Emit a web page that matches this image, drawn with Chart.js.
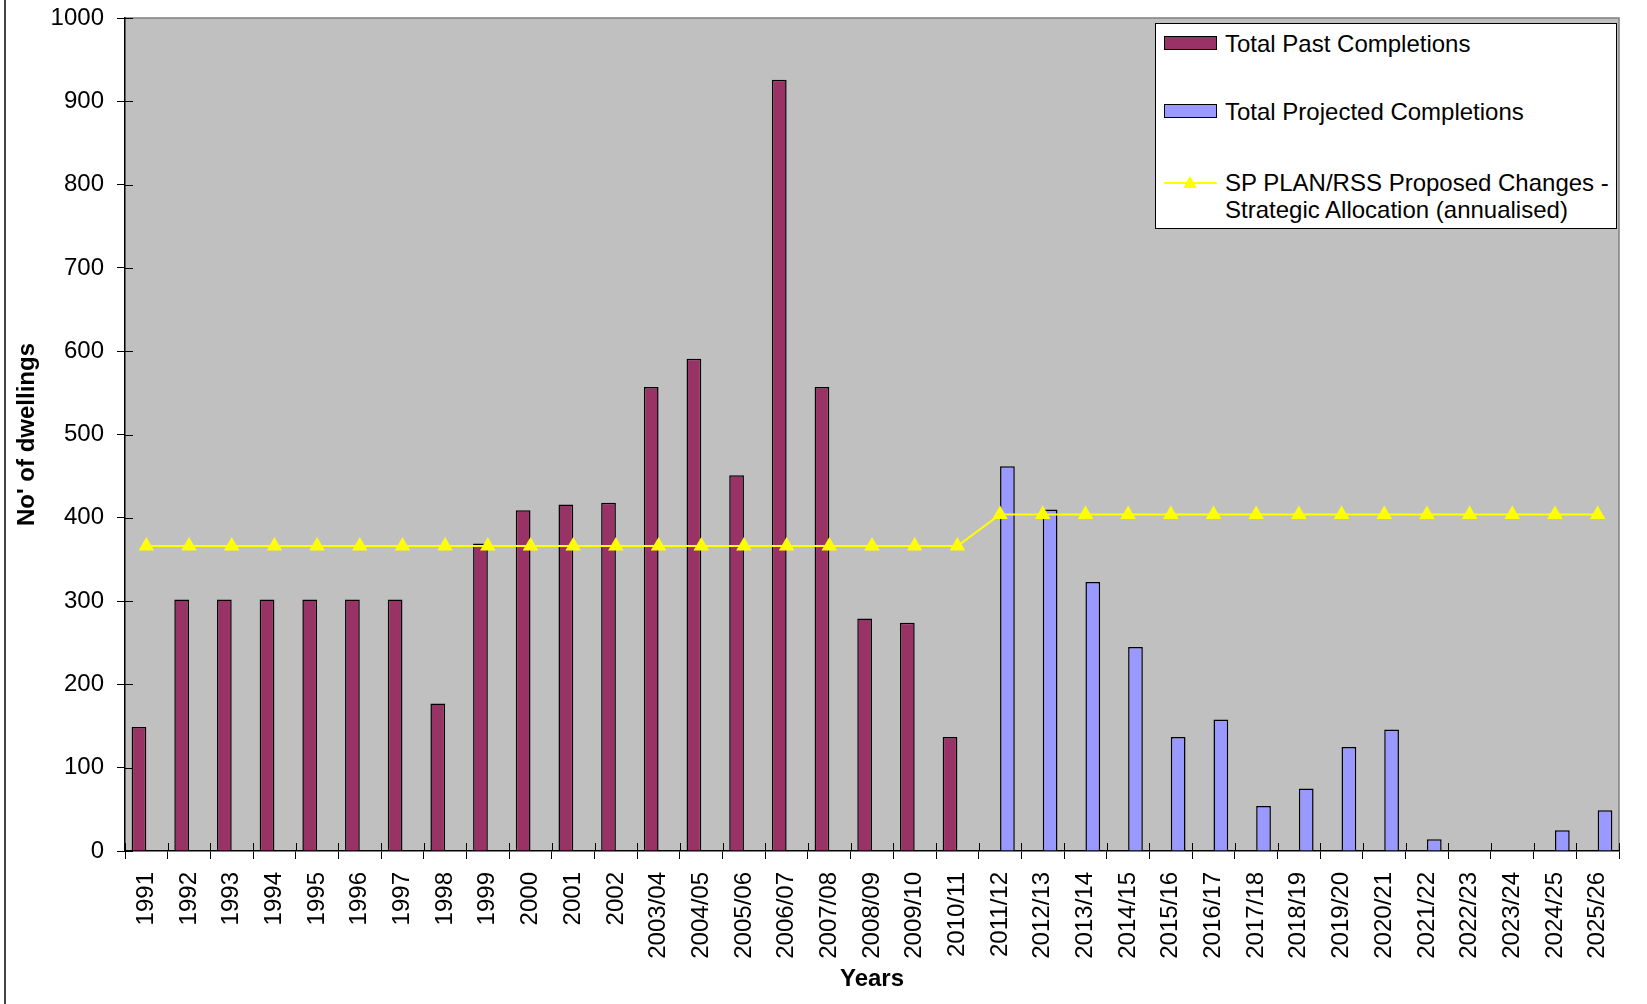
<!DOCTYPE html>
<html>
<head>
<meta charset="utf-8">
<title>Housing completions</title>
<script src="https://cdn.jsdelivr.net/npm/chart.js@4/dist/chart.umd.min.js"></script>
<style>
    body { margin: 0; background: #fff; font-family: 'Liberation Sans', Arial, sans-serif; }
    #wrap { position: relative; width: 1647px; height: 1004px; }
    #frameLine { position: absolute; left: 4px; top: 0; width: 2px; height: 1004px; background: #444; }
    #legend {
        position: absolute; left: 1155px; top: 23px; width: 460px; height: 204px;
        background: #fff; border: 1px solid #000; box-sizing: content-box;
    }
    #legend ul { list-style: none; margin: 0; padding: 0; }
    #legend li { display: flex; align-items: flex-start; position: absolute; left: 8px; }
    #legend .swatch { width: 51px; height: 12px; border: 1px solid #000; margin-top: 6px; flex: none; }
    #legend .lineSwatch { width: 53px; height: 14px; margin-top: 6px; position: relative; flex: none; }
    #legend .lineSwatch .bar { position: absolute; left: 0; right: 0; top: 7px; height: 2px; background: #ffff00; }
    #legend .lineSwatch .tri {
        position: absolute; left: 19px; top: 1px; width: 0; height: 0;
        border-left: 7px solid transparent; border-right: 7px solid transparent; border-bottom: 12px solid #ffff00;
    }
    #legend .text { margin-left: 8px; font-size: 24px; line-height: 27px; color: #000; width: 392px; }
</style>
</head>
<body>
<div id="wrap">
    <canvas id="completionsChart" width="1647" height="1004"></canvas>
    <div id="frameLine"></div>
    <div id="legend"><ul id="legendList"></ul></div>
</div>
<script>
// Years on the x axis
const categories = [
    '1991', '1992', '1993', '1994', '1995', '1996', '1997', '1998', '1999', '2000',
    '2001', '2002', '2003/04', '2004/05', '2005/06', '2006/07', '2007/08', '2008/09', '2009/10', '2010/11',
    '2011/12', '2012/13', '2013/14', '2014/15', '2015/16', '2016/17', '2017/18', '2018/19', '2019/20', '2020/21',
    '2021/22', '2022/23', '2023/24', '2024/25', '2025/26'
];

// Dwellings completed
const pastCompletions = [
    149, 302, 302, 302, 302, 302, 302, 177, 369, 409,
    416, 418, 557, 591, 451, 926, 557, 279, 274, 137,
    null, null, null, null, null, null, null, null, null, null,
    null, null, null, null, null
];

// Dwellings expected
const projectedCompletions = [
    null, null, null, null, null, null, null, null, null, null,
    null, null, null, null, null, null, null, null, null, null,
    462, 410, 323, 245, 137, 158, 54, 75, 125, 146,
    14, 0, 0, 25, 49
];

// Annualised strategic allocation
const strategicAllocation = [
    366, 366, 366, 366, 366, 366, 366, 366, 366, 366,
    366, 366, 366, 366, 366, 366, 366, 366, 366, 366,
    404, 404, 404, 404, 404, 404, 404, 404, 404, 404,
    404, 404, 404, 404, 404
];

const yTicks = [0, 100, 200, 300, 400, 500, 600, 700, 800, 900, 1000];

Chart.defaults.font.family = "'Liberation Sans', Arial, sans-serif";
Chart.defaults.color = '#000';

// Grey plot area with a frame on top/right, plus the inner half of the tick marks
const plotFrame = {
    id: 'plotFrame',
    beforeDraw(chart) {
        const { ctx, chartArea: a } = chart;
        ctx.save();
        ctx.fillStyle = '#c0c0c0';
        ctx.fillRect(a.left, a.top, a.right - a.left, a.bottom - a.top);
        ctx.strokeStyle = '#808080';
        ctx.lineWidth = 1.5;
        ctx.beginPath();
        ctx.moveTo(a.left, a.top);
        ctx.lineTo(a.right, a.top);
        ctx.lineTo(a.right, a.bottom);
        ctx.stroke();
        ctx.restore();
    },
    beforeDatasetsDraw(chart) {
        const { ctx, chartArea: a, scales: { x, y } } = chart;
        ctx.save();
        ctx.strokeStyle = '#000';
        ctx.lineWidth = 1;
        ctx.beginPath();
        y.ticks.forEach((t, i) => {
            const py = Math.round(y.getPixelForTick(i)) + 0.5;
            ctx.moveTo(a.left, py);
            ctx.lineTo(a.left + 8, py);
        });
        const half = (x.getPixelForValue(1) - x.getPixelForValue(0)) / 2;
        for (let i = 0; i <= categories.length; i++) {
            const px = Math.round(x.getPixelForValue(i) - half) + 0.5;
            ctx.moveTo(px, a.bottom);
            ctx.lineTo(px, a.bottom - 8);
        }
        ctx.stroke();
        ctx.restore();
    }
};

const ctx = document.getElementById('completionsChart').getContext('2d');
const chart = new Chart(ctx, {
    type: 'bar',
    data: {
        labels: categories,
        datasets: [{
            label: 'Total Past Completions',
            data: pastCompletions,
            backgroundColor: '#993366',
            borderColor: '#000',
            borderWidth: 1.5,
            order: 1
        }, {
            label: 'Total Projected Completions',
            data: projectedCompletions,
            backgroundColor: '#9999ff',
            borderColor: '#000',
            borderWidth: 1.5,
            order: 1
        }, {
            type: 'line',
            label: 'SP PLAN/RSS Proposed Changes - Strategic Allocation (annualised)',
            data: strategicAllocation,
            borderColor: '#ffff00',
            backgroundColor: '#ffff00',
            borderWidth: 2,
            pointStyle: 'triangle',
            pointRadius: 7,
            pointBackgroundColor: '#ffff00',
            pointBorderColor: '#ffff00',
            tension: 0,
            order: 0
        }]
    },
    options: {
        responsive: false,
        animation: false,
        layout: { padding: { top: 18, right: 28, left: 0, bottom: 0 } },
        datasets: {
            bar: { categoryPercentage: 0.69, barPercentage: 1.0 }
        },
        plugins: {
            legend: { display: false },
            tooltip: { enabled: false }
        },
        scales: {
            x: {
                offset: true,
                grid: { drawOnChartArea: false, tickLength: 8, color: '#000', offset: true },
                border: { color: '#000', width: 1.5 },
                ticks: {
                    autoSkip: false, maxRotation: 90, minRotation: 90,
                    padding: 13, font: { size: 24 }, color: '#000'
                },
                title: {
                    display: true, text: 'Years',
                    font: { size: 24, weight: 'bold' }, color: '#000',
                    padding: { top: 0, bottom: 10 }
                },
                afterFit(scale) {
                    scale.height = 153;
                    scale.paddingLeft = 0;
                    scale.paddingRight = 0;
                }
            },
            y: {
                min: 0,
                max: 1000,
                afterBuildTicks(scale) { scale.ticks = yTicks.map(v => ({ value: v })); },
                grid: { drawOnChartArea: false, tickLength: 8, color: '#000' },
                border: { color: '#000', width: 1.5 },
                ticks: {
                    padding: 13, font: { size: 24 }, color: '#000',
                    callback: value => String(value)
                },
                title: {
                    display: true, text: "No' of dwellings",
                    font: { size: 24, weight: 'bold' }, color: '#000',
                    padding: { top: 13, bottom: 0 }
                },
                afterFit(scale) {
                    scale.width = 125;
                    scale.paddingTop = 0;
                    scale.paddingBottom = 0;
                }
            }
        }
    },
    plugins: [plotFrame]
});

// Boxed legend built from the dataset definitions
const rowTops = [6, 74, 145];
const legendList = document.getElementById('legendList');
chart.data.datasets.forEach((ds, i) => {
    const li = document.createElement('li');
    li.style.top = rowTops[i] + 'px';
    let swatch;
    if (ds.type === 'line') {
        swatch = document.createElement('span');
        swatch.className = 'lineSwatch';
        swatch.innerHTML = '<span class="bar"></span><span class="tri"></span>';
    } else {
        swatch = document.createElement('span');
        swatch.className = 'swatch';
        swatch.style.background = ds.backgroundColor;
    }
    const text = document.createElement('span');
    text.className = 'text';
    text.textContent = ds.label;
    li.appendChild(swatch);
    li.appendChild(text);
    legendList.appendChild(li);
});
</script>
</body>
</html>
